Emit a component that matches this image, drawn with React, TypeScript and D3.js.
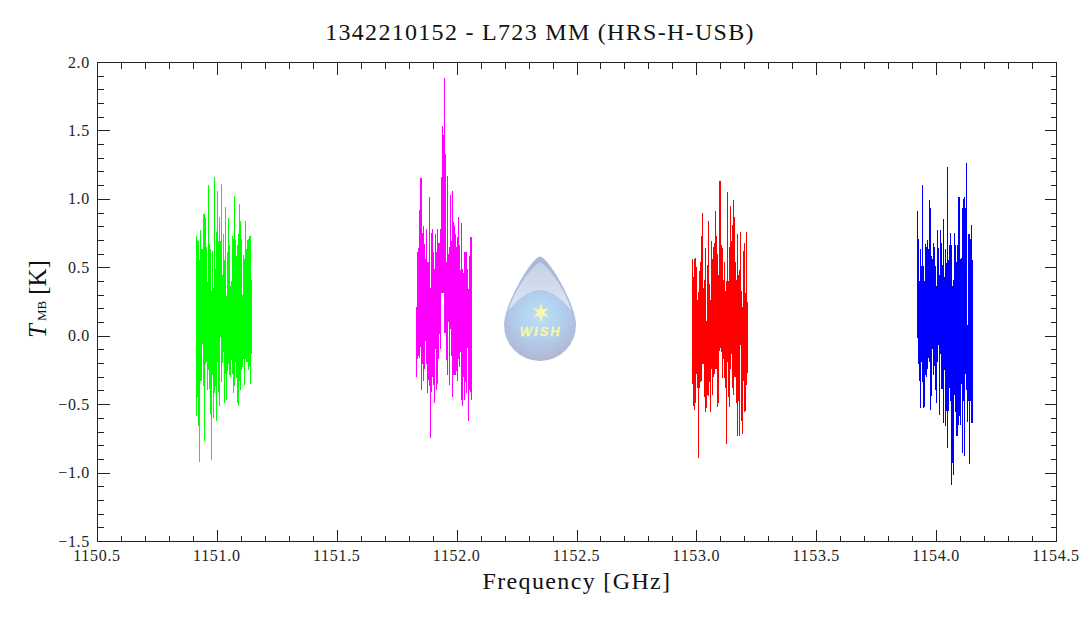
import React from "react";
import * as d3 from "d3";

const WIDTH = 1080;
const HEIGHT = 618;

const xTicks = ["1150.5", "1151.0", "1151.5", "1152.0", "1152.5", "1153.0", "1153.5", "1154.0", "1154.5"];
const yTicks = ["-1.5", "-1.0", "-0.5", "0.0", "0.5", "1.0", "1.5", "2.0"];

const channelStep = 0.004171;

const greenStart = 1150.913;
const greenHigh = [0.73, 0.70, 0.69, 0.55, 0.77, 0.63, 0.63, 0.89, 0.89, 0.86, 0.65, 0.39, 1.10, 0.67, 0.63, 0.33, 0.62, 0.35, 1.16, 0.49, 0.76, 1.06, 0.69, 0.87, 0.69, 1.11, 0.44, 0.74, 0.55, 0.94, 0.29, 0.61, 0.86, 0.66, 0.36, 0.40, 0.73, 0.71, 1.02, 0.70, 0.58, 0.66, 0.74, 0.96, 0.84, 0.71, 0.30, 0.59, 0.56, 0.84, 0.63, 0.70, 0.71, 0.73, 0.73, 0.41];
const greenLow = [-0.59, -0.45, -0.66, -0.92, -0.33, -0.33, -0.06, -0.37, -0.77, -0.21, -0.19, -0.40, -0.25, -0.39, -0.57, -0.91, -0.29, -0.60, -0.42, -0.37, -0.62, -0.19, -0.41, -0.51, -0.01, -0.34, -0.20, -0.12, -0.49, -0.28, -0.47, -0.26, -0.21, -0.29, -0.30, -0.18, -0.28, -0.42, -0.37, -0.19, -0.31, -0.49, -0.51, -0.33, -0.40, -0.25, -0.23, -0.17, -0.36, -0.17, -0.19, -0.19, -0.25, -0.22, -0.35, -0.13];

const magentaStart = 1151.8305;
const magentaHigh = [0.21, 0.61, 0.64, 0.92, 1.15, 1.15, 0.75, 0.80, 0.67, 0.56, 0.78, 0.54, 0.54, 1.01, 0.35, 0.75, 0.78, 0.61, 0.49, 0.74, 0.61, 0.78, 0.68, 0.68, 0.78, 1.16, 1.53, 1.47, 1.88, 1.33, 0.54, 1.17, 0.60, 0.65, 1.03, 0.69, 1.06, 0.83, 0.80, 0.74, 0.65, 0.72, 0.87, 0.66, 0.48, 0.82, 0.49, 0.46, 0.61, 0.61, 0.61, 0.49, 0.34, 0.58, 0.72, 0.72];
const magentaLow = [-0.30, -0.17, -0.15, -0.16, -0.08, -0.40, -0.21, -0.33, -0.24, -0.04, -0.21, -0.42, -0.32, -0.37, -0.75, -0.41, -0.30, -0.36, -0.49, -0.10, -0.40, -0.35, -0.17, 0.01, -0.10, 0.31, 0.31, 0.31, 0.02, 0.02, -0.18, -0.29, 0.10, -0.36, 0.05, -0.15, -0.45, -0.29, -0.29, -0.29, -0.26, -0.33, -0.17, -0.23, -0.12, -0.47, -0.51, -0.30, -0.47, -0.34, -0.42, -0.09, -0.62, -0.40, -0.41, -0.47];

const redStart = 1152.982;
const redHigh = [0.56, 0.43, 0.56, 0.57, 0.50, 0.26, 0.32, 0.47, 0.54, 0.73, 0.90, 0.35, 0.41, 0.64, 0.11, 0.52, 0.84, 0.38, 0.26, 0.69, 0.56, 0.65, 0.68, 0.91, 0.73, 0.60, 0.44, 1.13, 1.13, 0.66, 0.64, 0.41, 0.54, 0.33, 0.40, 1.05, 0.40, 0.65, 0.95, 0.69, 0.81, 0.99, 0.87, 0.54, 0.41, 0.74, 0.44, 0.48, 0.76, 0.33, 0.21, 0.62, 0.68, 0.31, 0.76, 0.25];
const redLow = [-0.35, -0.51, -0.54, -0.49, -0.28, -0.38, -0.89, -0.38, -0.34, -0.33, -0.21, -0.21, -0.45, -0.56, -0.53, -0.43, -0.44, -0.34, -0.56, -0.24, -0.43, -0.30, -0.28, -0.24, -0.24, -0.52, -0.49, -0.11, -0.09, -0.12, -0.31, -0.17, -0.31, -0.38, -0.79, -0.19, -0.45, -0.52, -0.24, -0.13, -0.38, -0.43, -0.30, -0.30, -0.49, -0.73, -0.48, -0.73, -0.07, -0.62, -0.72, -0.33, -0.56, -0.55, -0.36, -0.27];

const blueStart = 1153.92;
const blueHigh = [0.91, 0.71, 0.40, 0.63, 0.51, 1.10, 0.51, 0.40, 0.67, 0.65, 0.70, 0.63, 0.99, 0.93, 0.58, 0.56, 0.68, 0.65, 0.51, 0.36, 0.77, 0.64, 0.44, 0.77, 0.68, 0.52, 0.85, 0.43, 0.63, 0.53, 1.23, 0.55, 0.66, 0.75, 0.66, 0.36, 0.41, 0.75, 0.66, 0.54, 0.66, 1.01, 1.01, 0.56, 0.57, 0.93, 1.00, 1.01, 0.93, 1.26, 0.08, 0.74, 0.74, 0.71, 0.81, 0.55];
const blueLow = [-0.02, -0.21, -0.33, -0.53, -0.19, -0.34, -0.53, -0.52, -0.29, -0.30, -0.24, -0.16, -0.19, -0.54, -0.44, -0.10, -0.29, -0.22, -0.40, -0.49, -0.19, -0.07, -0.58, -0.13, -0.39, -0.39, -0.64, -0.25, -0.66, -0.55, -0.82, -0.55, -0.38, -0.48, -1.09, -0.93, -1.02, -0.43, -0.56, -0.73, -0.73, -0.65, -0.59, -0.65, -0.35, -0.86, -0.48, -0.88, -0.28, -0.40, -0.63, -0.48, -0.94, -0.48, -0.64, -0.64];

const bands = [
  { start: greenStart, high: greenHigh, low: greenLow, color: "#00ff00" },
  { start: magentaStart, high: magentaHigh, low: magentaLow, color: "#ff00ff" },
  { start: redStart, high: redHigh, low: redLow, color: "#ff0000" },
  { start: blueStart, high: blueHigh, low: blueLow, color: "#0000ff" },
];

const x = d3.scaleLinear().domain([1150.5, 1154.5]).range([97, 1056]);
const y = d3.scaleLinear().domain([-1.5, 2]).range([541, 62]);

const xMinor = d3.range(1150.6, 1154.45, 0.1);
const yMinor = d3.range(-1.4, 1.95, 0.1);

const AXIS = "#222";
const FONT = "'Liberation Serif', serif";

const snap = (v: number) => Math.round(v) + 0.5;
const label = (s: string) => s.replace("-", "\u2212");

const starPath = d3.lineRadial<number>()
  .angle((_, i) => (i * Math.PI) / 6)
  .radius((d) => d)
  .curve(d3.curveLinearClosed)([10, 3.4, 9, 3.4, 9, 3.4, 10, 3.4, 9, 3.4, 9, 3.4]) || "";

const Logo = () => (
  <g filter="url(#logoSoft)">
    <defs>
      <filter id="logoSoft" x="-10%" y="-10%" width="120%" height="120%">
        <feGaussianBlur stdDeviation="0.35" />
      </filter>
      <linearGradient id="dropBase" x1="0" x2="0" y1="0" y2="1">
        <stop offset="0%" stopColor="#aab6d6" />
        <stop offset="60%" stopColor="#aec3e4" />
        <stop offset="100%" stopColor="#b2b4d0" />
      </linearGradient>
      <radialGradient id="dropGlow" cx="50%" cy="38%" r="62%">
        <stop offset="0%" stopColor="#bde0f8" />
        <stop offset="50%" stopColor="#b2d0ee" />
        <stop offset="100%" stopColor="#b1b6d4" />
      </radialGradient>
      <linearGradient id="dropShine" x1="0" x2="0" y1="0" y2="1">
        <stop offset="0%" stopColor="#c4d0e6" />
        <stop offset="100%" stopColor="#dde6f3" />
      </linearGradient>
    </defs>
    <path
      d="M540 256.5 C548 257 576 304 576 325 A36 36 0 0 1 504 325 C504 304 532 257 540 256.5 Z"
      fill="url(#dropBase)"
    />
    <circle cx={540} cy={325} r={35} fill="url(#dropGlow)" />
    <path
      d="M540 262 C549 267 567 292 571 310 C560 297 550 290 540 290 C530 290 520 297 509 310 C513 292 531 267 540 262 Z"
      fill="url(#dropShine)"
    />
    <path d={starPath} transform="translate(541,312.5)" fill="#fbf8a8" />
    <text
      x={541}
      y={335.5}
      textAnchor="middle"
      fontFamily="'Liberation Sans', sans-serif"
      fontStyle="italic"
      fontWeight="bold"
      fontSize={13}
      letterSpacing={2}
      fill="#f8f5a4"
      stroke="#f8f5a4"
      strokeWidth={0.35}
    >
      WISH
    </text>
  </g>
);

export default function App() {
  const left = snap(x.range()[0]);
  const right = snap(x.range()[1]);
  const bottom = snap(y.range()[0]);
  const top = snap(y.range()[1]);

  const tickPath = (
    xs: number[],
    ys: number[],
    major: number,
  ) => {
    // ticks point inward from all four sides of the box
    const path = d3.path();
    xs.forEach((v) => {
      const px = snap(x(v));
      path.moveTo(px, bottom);
      path.lineTo(px, bottom - major);
      path.moveTo(px, top);
      path.lineTo(px, top + major);
    });
    ys.forEach((v) => {
      const py = snap(y(v));
      path.moveTo(left, py);
      path.lineTo(left + major, py);
      path.moveTo(right, py);
      path.lineTo(right - major, py);
    });
    return path.toString();
  };

  return (
    <svg
      width={WIDTH}
      height={HEIGHT}
      style={{ position: "absolute", left: 0, top: 0, background: "#fff" }}
    >
      <text
        x={540}
        y={40}
        textAnchor="middle"
        fontFamily={FONT}
        fontSize={24}
        letterSpacing={1.3}
        fill="#111"
      >
        1342210152 - L723 MM (HRS-H-USB)
      </text>

      {bands.map((band) =>
        band.high.map((hi, i) => {
          const px = Math.floor(x(band.start + i * channelStep) + 0.2) + 0.5;
          return (
            <line
              key={`${band.color}-${i}`}
              x1={px}
              x2={px}
              y1={y(hi)}
              y2={y(band.low[i])}
              stroke={band.color}
              strokeWidth={1}
              shapeRendering="crispEdges"
            />
          );
        }),
      )}

      <Logo />

      <g fill="none" stroke={AXIS} strokeWidth={1} shapeRendering="crispEdges">
        <rect x={left} y={top} width={right - left} height={bottom - top} />
        <path d={tickPath(xMinor, yMinor, 6)} />
        <path d={tickPath(xTicks.map(Number), yTicks.map(Number), 12)} />
      </g>

      <g fontFamily={FONT} fontSize={16} fill="#222">
        {xTicks.map((t) => (
          <text key={t} x={x(+t)} y={561} textAnchor="middle" letterSpacing={0.7}>
            {t}
          </text>
        ))}
        {yTicks.map((t) => (
          <text key={t} x={90} y={y(+t) + 5.5} textAnchor="end" letterSpacing={0.7}>
            {label(t)}
          </text>
        ))}
      </g>

      <text
        x={577}
        y={589}
        textAnchor="middle"
        fontFamily={FONT}
        fontSize={24}
        letterSpacing={1.35}
        fill="#111"
      >
        Frequency [GHz]
      </text>

      <text
        transform="translate(46,338) rotate(-90)"
        fontFamily={FONT}
        fontSize={25}
        fill="#111"
      >
        <tspan fontStyle="italic">T</tspan>
        <tspan fontSize={13} dx={3}>MB</tspan>
        <tspan dx={6}>[K]</tspan>
      </text>
    </svg>
  );
}
